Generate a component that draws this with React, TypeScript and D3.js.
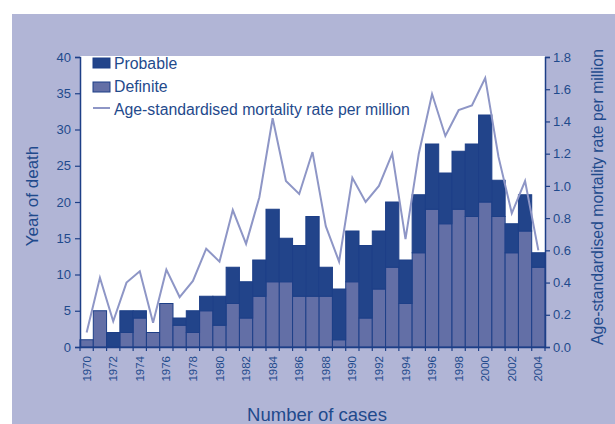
import React, { useRef, useEffect } from "react";
import * as d3 from "d3";

const years = d3.range(1970, 2005);
const definite = [1, 5, 0, 2, 4, 2, 6, 3, 2, 5, 3, 6, 4, 7, 9, 9, 7, 7, 7, 1, 9, 4, 8, 11, 6, 13, 19, 17, 19, 18, 20, 18, 13, 16, 11];
const probable = [0, 0, 2, 3, 1, 0, 0, 1, 3, 2, 4, 5, 5, 5, 10, 6, 7, 11, 4, 7, 7, 10, 8, 9, 6, 8, 9, 7, 8, 10, 12, 5, 4, 5, 2];
const rate = [0.09, 0.43, 0.16, 0.4, 0.47, 0.15, 0.48, 0.31, 0.41, 0.61, 0.53, 0.85, 0.64, 0.93, 1.42, 1.03, 0.95, 1.21, 0.75, 0.53, 1.05, 0.9, 1.0, 1.2, 0.67, 1.2, 1.57, 1.31, 1.47, 1.5, 1.67, 1.18, 0.83, 1.03, 0.6];
const leftTicks = [0, 5, 10, 15, 20, 25, 30, 35, 40];
const rightTicks = [0, 0.2, 0.4, 0.6, 0.8, 1.0, 1.2, 1.4, 1.6, 1.8];

const W = 615;
const H = 424;
const navy = "#1d3f87";
const text = "#1f4a8c";
const font = "'Liberation Sans', Arial, sans-serif";

const App = () => {
  const svgRef = useRef<SVGSVGElement>(null);

  useEffect(() => {
    const svg = d3.select(svgRef.current);
    svg.selectAll("*").remove();

    const left = 80, right = 545, top = 57, bottom = 347;

    // background panels
    svg.append("rect").attr("x", 12).attr("y", 14).attr("width", W - 12).attr("height", H - 14).attr("fill", "#b1b5d6");
    svg.append("rect").attr("x", left).attr("y", 56).attr("width", right - left).attr("height", bottom - 56).attr("fill", "#fff");

    const x = d3.scaleBand<number>().domain(years).range([left, right]).padding(0);
    const y = d3.scaleLinear().domain([0, 40]).range([bottom, top]);
    const y2 = d3.scaleLinear().domain([0, 1.8]).range([bottom, top]);

    // stacked bars
    const rows = years.map((yr, i) => ({ year: yr, definite: definite[i], probable: probable[i] }));
    const stack = d3.stack<any>().keys(["definite", "probable"])(rows);
    const fills = ["#636fa6", "#22448a"];
    stack.forEach((layer, k) => {
      svg.append("g")
        .selectAll("rect")
        .data(layer.filter((d) => d[1] > d[0]))
        .enter()
        .append("rect")
        .attr("x", (d) => x(d.data.year)!)
        .attr("y", (d) => y(d[1]))
        .attr("width", x.bandwidth())
        .attr("height", (d) => y(d[0]) - y(d[1]))
        .attr("fill", fills[k])
        .attr("stroke", navy)
        .attr("stroke-width", 1);
    });

    // rate line
    const line = d3.line<number>()
      .x((_, i) => x(years[i])! + x.bandwidth() / 2)
      .y((d) => y2(d));
    svg.append("path")
      .datum(rate)
      .attr("d", line)
      .attr("fill", "none")
      .attr("stroke", "#8e96c6")
      .attr("stroke-width", 2);

    // axes
    const leftAxis = svg.append("g").attr("transform", `translate(${left},0)`)
      .call(d3.axisLeft(y).tickValues(leftTicks).tickSize(5).tickPadding(4).tickFormat(d3.format("d")));
    const rightAxis = svg.append("g").attr("transform", `translate(${right},0)`)
      .call(d3.axisRight(y2).tickValues(rightTicks).tickSize(5).tickPadding(3).tickFormat(d3.format(".1f")));
    const bottomAxis = svg.append("g").attr("transform", `translate(0,${bottom})`)
      .call(d3.axisBottom(x).tickValues(years.filter((yr) => yr % 2 === 0)).tickSize(0).tickFormat(d3.format("d")));

    [leftAxis, rightAxis, bottomAxis].forEach((g) => {
      g.select(".domain").attr("stroke", navy).attr("stroke-width", 1.5);
      g.selectAll(".tick line").attr("stroke", navy).attr("stroke-width", 1.2);
      g.selectAll("text").attr("fill", text).attr("font-family", font).attr("font-size", 13);
    });
    bottomAxis.selectAll("text")
      .attr("font-size", 11.5)
      .attr("transform", "rotate(-90)")
      .attr("text-anchor", "end")
      .attr("x", -9)
      .attr("y", 0)
      .attr("dy", "0.35em");

    // bar boundary ticks on the x axis
    svg.append("g")
      .selectAll("line")
      .data(years.concat([2005]))
      .enter()
      .append("line")
      .attr("x1", (d) => (d === 2005 ? right : x(d)!))
      .attr("x2", (d) => (d === 2005 ? right : x(d)!))
      .attr("y1", bottom)
      .attr("y2", bottom + 4)
      .attr("stroke", navy)
      .attr("stroke-width", 1.2);

    // titles
    svg.append("text")
      .attr("transform", `translate(38,196) rotate(-90)`)
      .attr("text-anchor", "middle")
      .attr("fill", text).attr("font-family", font).attr("font-size", 17)
      .text("Year of death");
    svg.append("text")
      .attr("transform", `translate(603,197) rotate(-90)`)
      .attr("text-anchor", "middle")
      .attr("fill", text).attr("font-family", font).attr("font-size", 15.8)
      .text("Age-standardised mortality rate per million");
    svg.append("text")
      .attr("x", 317).attr("y", 421)
      .attr("text-anchor", "middle")
      .attr("fill", text).attr("font-family", font).attr("font-size", 18.5)
      .text("Number of cases");

    // legend
    const legend = svg.append("g").attr("transform", "translate(93,58)");
    legend.append("rect").attr("x", 0).attr("y", 0).attr("width", 17).attr("height", 10).attr("fill", fills[1]).attr("stroke", navy);
    legend.append("rect").attr("x", 0).attr("y", 24).attr("width", 17).attr("height", 10).attr("fill", fills[0]).attr("stroke", navy);
    legend.append("line").attr("x1", 0).attr("x2", 17).attr("y1", 50).attr("y2", 50).attr("stroke", "#8e96c6").attr("stroke-width", 2);
    const labels = ["Probable", "Definite", "Age-standardised mortality rate per million"];
    labels.forEach((l, i) => {
      legend.append("text")
        .attr("x", 21).attr("y", 10.5 + i * 23)
        .attr("fill", text).attr("font-family", font).attr("font-size", 15.8)
        .text(l);
    });
  }, []);

  return <svg ref={svgRef} width={W} height={H} style={{ position: "absolute", left: 0, top: 0 }}></svg>;
};

export default App;
